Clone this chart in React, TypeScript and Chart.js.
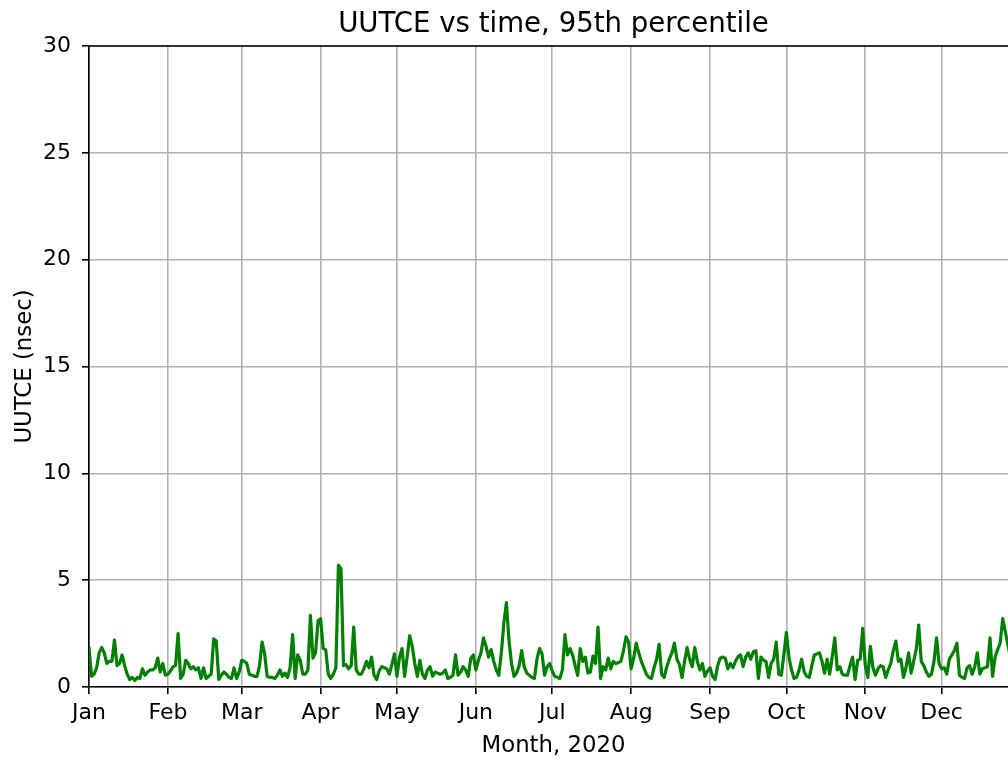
import React, { useEffect, useRef } from 'react';
import { Chart, registerables } from 'chart.js';

Chart.register(...registerables);

const TITLE = 'UUTCE vs time, 95th percentile';
const X_LABEL = 'Month, 2020';
const Y_LABEL = 'UUTCE (nsec)';

const monthStarts = [0, 31, 60, 91, 121, 152, 182, 213, 244, 274, 305, 335];
const monthLabels = ['Jan', 'Feb', 'Mar', 'Apr', 'May', 'Jun', 'Jul', 'Aug', 'Sep', 'Oct', 'Nov', 'Dec'];
const yTicks = [0, 5, 10, 15, 20, 25, 30];

// daily 95th percentile UUTCE (nsec), 2020
const jan = [1.85, 0.5, 0.6, 0.9, 1.6, 1.85, 1.6, 1.1, 1.2, 1.2, 2.2, 1.0, 1.1, 1.5, 1.0, 0.6, 0.35, 0.45, 0.3, 0.45, 0.4, 0.85, 0.55, 0.7, 0.8, 0.8, 0.9, 1.35, 0.7, 1.1, 0.55];
const feb = [0.6, 0.75, 0.95, 1.0, 2.5, 0.4, 0.6, 1.25, 1.1, 0.85, 0.95, 0.8, 0.9, 0.4, 0.9, 0.4, 0.5, 0.6, 2.25, 2.15, 0.35, 0.55, 0.7, 0.6, 0.45, 0.4, 0.9, 0.4, 0.7];
const mar = [1.25, 1.2, 1.1, 0.6, 0.55, 0.5, 0.5, 1.0, 2.1, 1.55, 0.5, 0.45, 0.45, 0.4, 0.55, 0.8, 0.5, 0.65, 0.45, 0.9, 2.45, 0.4, 1.5, 1.25, 0.6, 0.6, 0.8, 3.35, 1.35, 1.6, 3.1];
const apr = [3.2, 1.8, 1.75, 0.6, 0.4, 0.6, 0.9, 5.7, 5.55, 1.0, 1.05, 0.85, 1.0, 2.8, 0.8, 0.6, 0.6, 0.85, 1.2, 0.9, 1.4, 0.55, 0.35, 0.75, 0.95, 0.9, 0.85, 0.6, 1.05, 1.55];
const may = [0.5, 1.4, 1.8, 0.5, 1.4, 2.4, 1.9, 1.1, 0.5, 1.25, 0.6, 0.4, 0.8, 0.95, 0.5, 0.7, 0.65, 0.6, 0.65, 0.8, 0.4, 0.45, 0.55, 1.5, 0.55, 0.7, 0.95, 0.8, 0.5, 1.35, 1.5];
const jun = [0.8, 1.25, 1.6, 2.3, 1.9, 1.4, 1.75, 1.2, 0.8, 0.55, 1.6, 3.0, 3.95, 2.2, 1.1, 0.5, 0.65, 1.0, 1.7, 0.95, 0.65, 0.55, 0.45, 0.4, 1.3, 1.8, 1.55, 0.55, 0.95, 1.1];
const jul = [0.75, 0.5, 0.45, 0.4, 0.8, 2.45, 1.5, 1.8, 1.5, 1.0, 0.55, 1.8, 1.2, 1.4, 0.65, 0.7, 1.45, 1.1, 2.8, 0.4, 0.95, 0.8, 1.35, 0.85, 1.2, 1.1, 1.15, 1.2, 1.7, 2.35, 2.1];
const aug = [0.85, 1.35, 2.05, 1.6, 1.2, 0.9, 0.6, 0.45, 0.4, 0.9, 1.3, 2.0, 0.6, 0.45, 0.95, 1.3, 1.6, 2.05, 1.3, 1.05, 0.45, 1.2, 1.85, 1.3, 0.95, 1.85, 1.2, 0.8, 1.1, 0.5, 0.75];
const sep = [0.9, 0.5, 0.35, 1.0, 1.35, 1.4, 1.35, 0.85, 1.1, 0.9, 1.2, 1.42, 1.5, 0.95, 1.4, 1.6, 1.3, 1.65, 1.7, 0.4, 1.4, 1.25, 1.2, 0.45, 1.1, 1.3, 2.1, 0.6, 0.55, 1.5];
const oct = [2.55, 1.4, 0.8, 0.4, 0.45, 0.8, 1.3, 0.7, 0.5, 0.45, 1.0, 1.5, 1.55, 1.6, 1.2, 0.65, 1.3, 0.6, 1.4, 2.3, 0.8, 0.95, 0.6, 0.55, 0.55, 1.0, 1.4, 0.35, 1.25, 1.3, 2.75];
const nov = [1.0, 0.45, 1.9, 0.9, 0.55, 0.85, 1.0, 0.95, 0.45, 0.8, 1.1, 1.7, 2.15, 1.2, 1.3, 0.45, 0.9, 1.6, 0.65, 1.2, 1.75, 2.9, 1.2, 1.0, 0.7, 0.5, 0.6, 1.2, 2.3, 1.1];
const dec = [0.85, 0.9, 0.6, 1.3, 1.5, 1.7, 2.05, 0.55, 0.45, 0.4, 0.9, 1.0, 0.6, 0.95, 1.6, 0.6, 0.85, 0.9, 0.95, 2.3, 0.5, 1.4, 1.75, 2.05, 3.2, 2.6, 2.0, 1.4, 1.8, 1.1, 1.3];

const values = [...jan, ...feb, ...mar, ...apr, ...may, ...jun, ...jul, ...aug, ...sep, ...oct, ...nov, ...dec];

const FONT = '"DejaVu Sans", sans-serif';

const framePlugin = {
  id: 'frameAndTitle',
  afterDraw(chart: any) {
    const { ctx, chartArea: a } = chart;
    ctx.save();
    ctx.strokeStyle = '#000';
    ctx.lineWidth = 1.6;
    ctx.beginPath();
    ctx.moveTo(a.left, a.top);
    ctx.lineTo(a.right, a.top);
    ctx.lineTo(a.right, a.bottom);
    ctx.stroke();
    ctx.fillStyle = '#000';
    ctx.font = `27.6px ${FONT}`;
    ctx.textAlign = 'center';
    ctx.textBaseline = 'alphabetic';
    ctx.fillText(TITLE, (a.left + a.right) / 2, a.top - 14.3);
    ctx.restore();
  },
};

export default function App() {
  const ref = useRef<HTMLCanvasElement>(null);

  useEffect(() => {
    if (!ref.current) return;
    document.documentElement.style.overflow = 'hidden';
    document.body.style.overflow = 'hidden';
    Chart.defaults.color = '#000';
    const chart = new Chart(ref.current, {
      type: 'line',
      data: {
        datasets: [
          {
            data: values.map((y, i) => ({ x: i, y })),
            borderColor: '#008000',
            borderWidth: 3.2,
            borderJoinStyle: 'round',
            borderCapStyle: 'round',
            pointRadius: 0,
            tension: 0,
            fill: false,
          },
        ],
      },
      options: {
        animation: false,
        responsive: false,
        maintainAspectRatio: false,
        layout: { padding: { top: 38, right: 90, bottom: 0, left: 0 } },
        plugins: {
          legend: { display: false },
          title: { display: false },
          tooltip: { enabled: false },
        },
        scales: {
          x: {
            type: 'linear',
            min: 0,
            max: 365,
            afterBuildTicks: (s: any) => {
              s.ticks = monthStarts.map((v) => ({ value: v }));
            },
            afterFit: (s: any) => {
              s.height = 73;
            },
            ticks: {
              autoSkip: false,
              maxRotation: 0,
              padding: 6.5,
              color: '#000',
              font: { family: FONT, size: 22 },
              callback: (v: any) => {
                const i = monthStarts.indexOf(Number(v));
                return i >= 0 ? monthLabels[i] : '';
              },
            },
            grid: { color: '#b0b0b0', lineWidth: 1.6, tickLength: 7, tickColor: '#000' },
            border: { display: true, color: '#000', width: 1.6 },
            title: {
              display: true,
              text: X_LABEL,
              color: '#000',
              font: { family: FONT, size: 22.8 },
              padding: { top: 0, bottom: 0.5 },
            },
          },
          y: {
            type: 'linear',
            min: 0,
            max: 30,
            afterBuildTicks: (s: any) => {
              s.ticks = yTicks.map((v) => ({ value: v }));
            },
            afterFit: (s: any) => {
              s.width = 81;
            },
            ticks: {
              padding: 11,
              color: '#000',
              font: { family: FONT, size: 22 },
            },
            grid: { color: '#b0b0b0', lineWidth: 1.6, tickLength: 7, tickColor: '#000' },
            border: { display: true, color: '#000', width: 1.6 },
            title: {
              display: true,
              text: Y_LABEL,
              color: '#000',
              font: { family: FONT, size: 22.8 },
              padding: { top: 3, bottom: 0 },
            },
          },
        },
      },
      plugins: [framePlugin],
    });
    return () => chart.destroy();
  }, []);

  return (
    <div
      style={{
        position: 'absolute',
        left: 8,
        top: 8,
        width: 1100,
        height: 752,
        overflow: 'hidden',
      }}
    >
      <canvas ref={ref} width={1100} height={752} style={{ display: 'block', width: 1100, height: 752 }} />
    </div>
  );
}
